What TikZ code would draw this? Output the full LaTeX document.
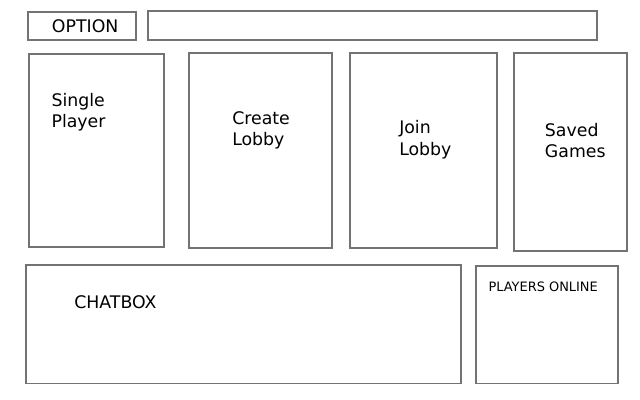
\documentclass[tikz,border=0pt]{standalone}
\usepackage{fontspec}
\setmainfont{DejaVu Sans}
\usetikzlibrary{positioning}
\tikzset{
  panel/.style={draw=black!55,line width=0.9pt},
  caption/.style={anchor=base west,inner sep=0pt,font=\fontsize{13}{16}\selectfont},
  smallcaption/.style={caption,font=\fontsize{9.7}{12}\selectfont}
}

\begin{document}
\begin{tikzpicture}[x=0.75pt,y=-0.75pt]
\useasboundingbox (0,0) rectangle (640,400);
% top row
\draw[panel] (28,12) rectangle (136,40);
\draw[panel] (148,11) rectangle (597,40);
\node[caption] (option) at (51.7,32.3) {OPTION};
% menu panels
\draw[panel] (29,54) rectangle (164,247);
\draw[panel] (189,53) rectangle (332,248);
\draw[panel] (350,53) rectangle (497,248);
\draw[panel] (514,53) rectangle (627,251);
\node[caption] (single) at (51.3,106) {Single};
\node[caption] (player) at (51.3,127.5) {Player};
\node[caption] (create) at (232,124) {Create};
\node[caption] (lobbyA) at (232,145.7) {Lobby};
\node[caption] (join) at (399,133) {Join};
\node[caption] (lobbyB) at (399,155.3) {Lobby};
\node[caption] (saved) at (544.7,136) {Saved};
\node[caption] (games) at (544.7,157.7) {Games};
% bottom row
\draw[panel] (26,265) rectangle (461,383.5);
\draw[panel] (476,266) rectangle (618,383.5);
\node[caption] (chatbox) at (74,308.3) {CHATBOX};
\node[smallcaption] (online) at (488.3,291.3) {PLAYERS ONLINE};
\end{tikzpicture}
\end{document}
